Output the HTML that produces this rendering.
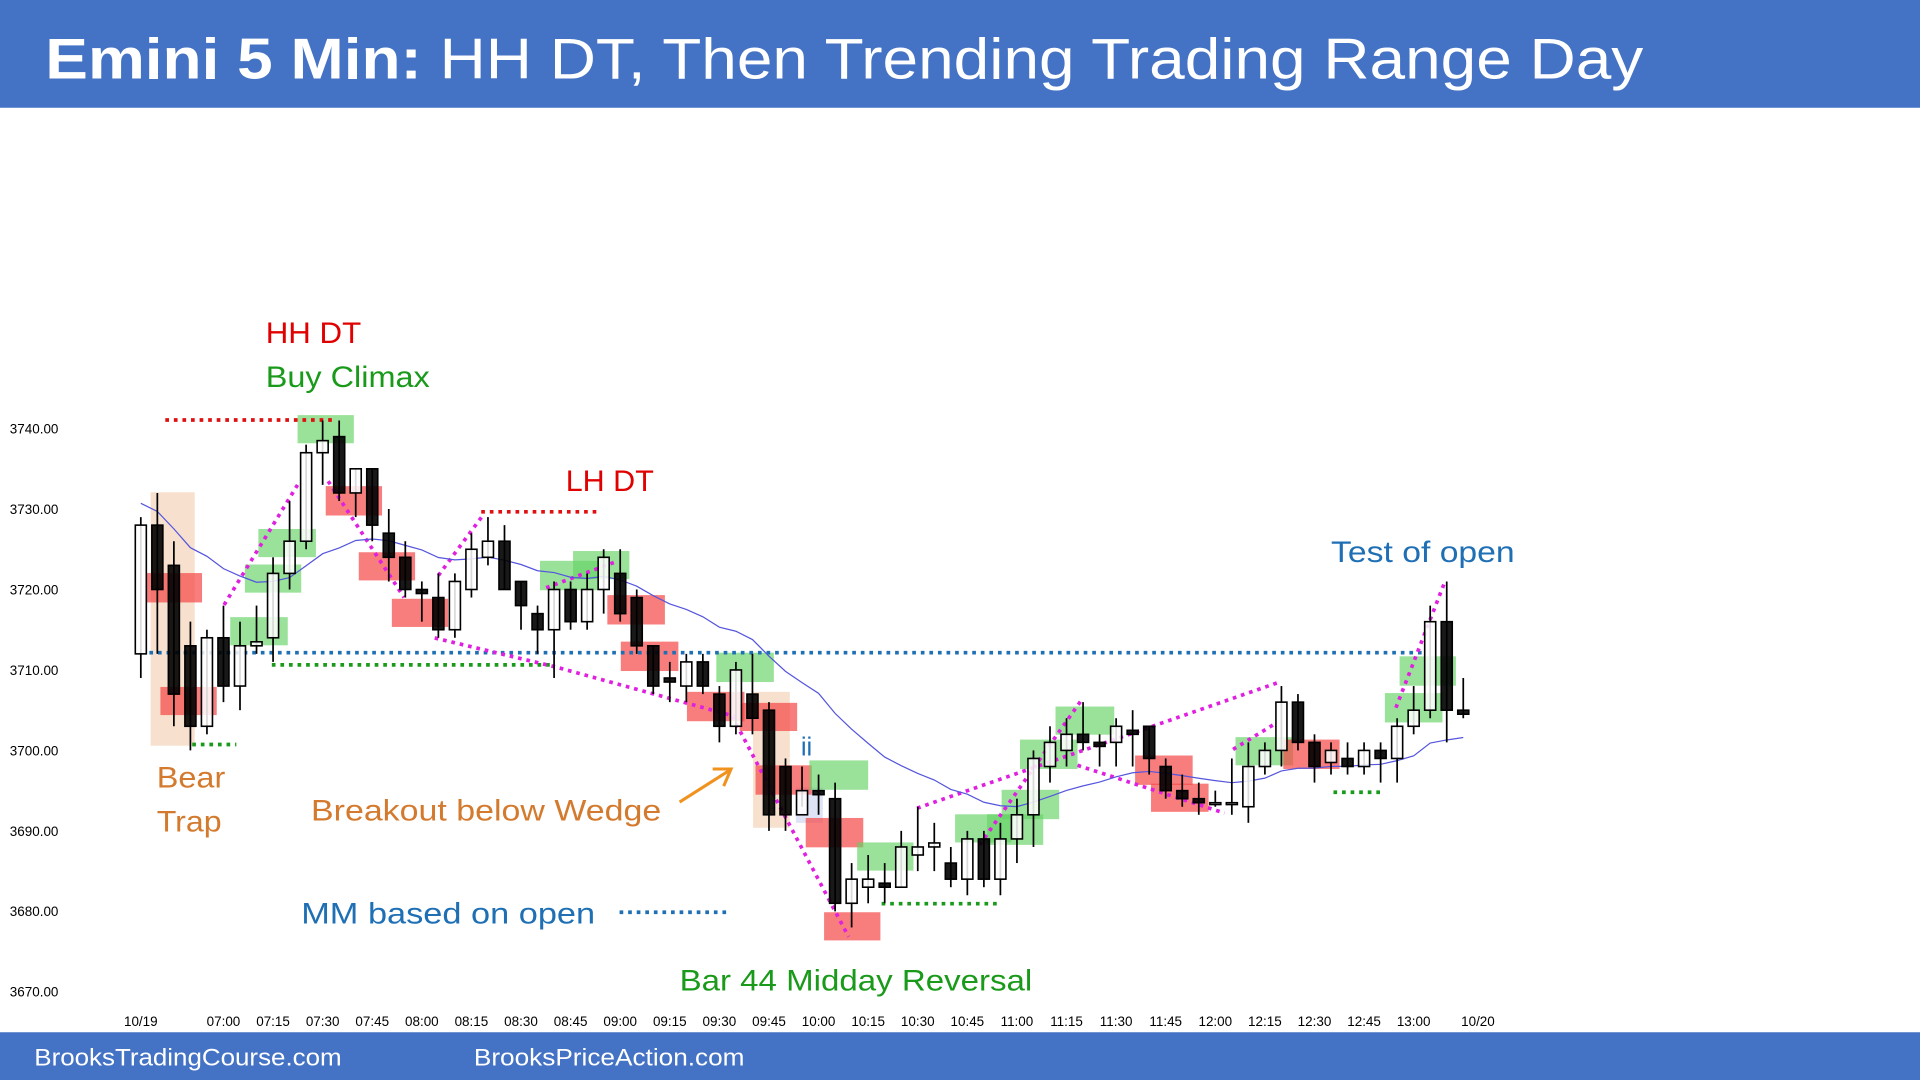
<!DOCTYPE html>
<html><head><meta charset="utf-8"><style>
html,body{margin:0;padding:0;background:#fff;overflow:hidden}
svg{display:block}
text{font-family:"Liberation Sans",sans-serif}
</style></head><body>
<svg id="chart" width="1920" height="1080" viewBox="0 0 1568 882" preserveAspectRatio="none" xmlns="http://www.w3.org/2000/svg">
<rect x="0" y="0" width="1568" height="88" fill="#4472C4"/>
<text x="37" y="64" font-size="47" fill="#fff" textLength="1305" lengthAdjust="spacingAndGlyphs"><tspan font-weight="bold">Emini 5 Min:</tspan> HH DT, Then Trending Trading Range Day</text>
<rect x="0" y="843" width="1568" height="39" fill="#4472C4"/>
<text x="28" y="870" font-size="20" fill="#fff" textLength="251" lengthAdjust="spacingAndGlyphs">BrooksTradingCourse.com</text>
<text x="387" y="870" font-size="20" fill="#fff" textLength="221" lengthAdjust="spacingAndGlyphs">BrooksPriceAction.com</text>
<g id="highlights"></g>
<g id="lines"></g>
<g id="axes"></g>
<polyline id="ma" fill="none" stroke="#5555dd" stroke-width="1"/>
<g id="candles"></g>
<g font-size="24">
<text x="217" y="280" fill="#e00000" textLength="78" lengthAdjust="spacingAndGlyphs">HH DT</text>
<text x="217" y="316" fill="#1a9a1a" textLength="134" lengthAdjust="spacingAndGlyphs">Buy Climax</text>
<text x="462" y="401" fill="#e00000" textLength="72" lengthAdjust="spacingAndGlyphs">LH DT</text>
<text x="128" y="643" fill="#d47a2e" textLength="56" lengthAdjust="spacingAndGlyphs">Bear</text>
<text x="128" y="679" fill="#d47a2e" textLength="53" lengthAdjust="spacingAndGlyphs">Trap</text>
<text x="254" y="670" fill="#d47a2e" textLength="286" lengthAdjust="spacingAndGlyphs">Breakout below Wedge</text>
<text x="654" y="617" fill="#1f6fb5" font-size="21">ii</text>
<text x="246" y="754" fill="#1f6fb5" textLength="240" lengthAdjust="spacingAndGlyphs">MM based on open</text>
<text x="555" y="809" fill="#1a9a1a" textLength="288" lengthAdjust="spacingAndGlyphs">Bar 44 Midday Reversal</text>
<text x="1087" y="459" fill="#1f6fb5" textLength="150" lengthAdjust="spacingAndGlyphs">Test of open</text>
<g stroke="#f0921e" stroke-width="2.5" fill="none">
<line x1="555" y1="655" x2="596" y2="629"/><polyline points="582,628 597,628 591,642"/></g>
</g>
</svg>
<script>
const opens  = [3712,3728,3723,3713,3703,3714,3708,3713,3714,3722,3726,3737,3739,3732,3735,3727,3724,3720,3719,3715,3720,3724,3726,3721,3717,3715,3720,3716,3720,3722,3719,3713,3709,3708,3711,3707,3703,3707,3705,3698,3692,3695,3694,3681,3683,3683.5,3683,3687,3688,3686,3684,3689,3684,3689,3692,3698,3700,3702,3701,3701,3702.5,3703,3698,3695,3694,3693.5,3693.5,3693,3698,3700,3706,3701,3698.5,3699,3698,3700,3699,3703,3705,3716,3705];
const highs  = [3729,3732,3726,3716,3715,3718,3716,3718,3724,3731,3738,3741,3741,3735,3735,3730,3726,3721,3722,3722,3727,3729,3728,3721,3718,3721,3721,3722,3725,3725,3720,3713,3711,3712,3712,3708,3711,3712,3706,3699,3698,3697,3696,3686,3687,3686,3690,3693,3691,3688,3690,3690,3691,3694,3700,3703,3704,3706,3702,3704,3705,3703,3699,3697,3696,3695,3699,3701,3701,3708,3707,3702,3701,3701,3701,3701,3704,3708,3718,3721,3709];
const lows   = [3709,3712,3703,3700,3702,3706,3705,3712,3711,3720,3725,3733,3731,3729,3726,3721,3719,3716,3714,3714,3719,3723,3720,3715,3712,3709,3715,3715,3717,3716,3712,3707,3706,3706,3707,3701,3702,3702,3690,3690,3693,3692,3680,3678,3681,3681,3683,3685,3685,3683,3682,3683,3682,3686,3688,3696,3698,3700,3698,3698,3698,3697,3694,3693,3692,3693,3692,3691,3697,3698,3700,3696,3697,3697,3697,3696,3696,3702,3704,3701,3704];
const closes = [3728,3720,3707,3703,3714,3708,3713,3713.5,3722,3726,3737,3738.5,3732,3735,3728,3724,3720,3719.5,3715,3721,3725,3726,3720,3718,3715,3720,3716,3720,3724,3717,3713,3708,3708.5,3711,3708,3703,3710,3704,3692,3692,3695,3694.5,3681,3684,3684,3683,3688,3688,3688.5,3684,3689,3684,3689,3692,3699,3701,3702,3701,3700.5,3703,3702,3699,3695,3694,3693.5,3693.5,3693.5,3698,3700,3706,3701,3698,3700,3698,3700,3699,3703,3705,3716,3705,3704.5];
const yTicks = [3740,3730,3720,3710,3700,3690,3680,3670];
const xLabels = ["10/19","07:00","07:15","07:30","07:45","08:00","08:15","08:30","08:45","09:00","09:15","09:30","09:45","10:00","10:15","10:30","10:45","11:00","11:15","11:30","11:45","12:00","12:15","12:30","12:45","13:00","10/20"];
const xLabelBars = [0,5,8,11,14,17,20,23,26,29,32,35,38,41,44,47,50,53,56,59,62,65,68,71,74,77,80];
const NS="http://www.w3.org/2000/svg";
function y(p){return 350+(3740-p)*6.571;}
function x(i){return 115+i*13.5;}
function mk(tag,attrs,parent){const e=document.createElementNS(NS,tag);for(const k in attrs)e.setAttribute(k,attrs[k]);parent.appendChild(e);return e;}
const axes=document.getElementById('axes');
yTicks.forEach(t=>{const e=mk('text',{x:8,y:y(t)+4,'font-size':11,fill:'#000'},axes);e.textContent=t.toFixed(2);

});
xLabels.forEach((l,k)=>{const xx=k===0?115:(k===xLabels.length-1?1207:x(xLabelBars[k]));const e=mk('text',{x:xx,y:838,'font-size':11,fill:'#000','text-anchor':'middle'},axes);e.textContent=l;

});
const hl=document.getElementById('highlights');
const G='rgba(100,210,100,0.65)',R='rgba(245,70,70,0.7)',T='rgba(240,200,165,0.55)';
[[123,402,36,207,T],[615,565,30,111,T],[650,643,22,29,'rgba(200,210,240,0.6)'],
[119,468,46,24,R],[131,561,46,23,R],[188,504,47,23,G],[200,461,46,23,G],[211,432,47,23,G],[243,339,46,23,G],
[266,397,46,24,R],[293,451,46,23,R],[320,489,46,23,R],[441,458,47,24,G],[468,450,46,23,G],
[496,486,47,24,R],[507,524,47,24,R],[561,565,47,24,R],[604,574,47,23,R],[585,533,47,24,G],
[617,625,46,24,R],[658,668,47,24,R],[673,745,46,23,R],[661,621,48,24,G],[700,688,46,23,G],[780,665,46,23,G],
[806,665,46,25,G],[818,645,47,24,G],[833,604,47,24,G],[862,577,48,23,G],[927,617,47,24,R],[940,640,47,23,R],
[1009,602,47,23,G],[1048,604,46,24,R],[1131,566,47,24,G],[1143,536,46,24,G]].forEach(r=>{
const e=mk('rect',{x:r[0],y:r[1],width:r[2],height:r[3],fill:r[4]},hl);

});
const ln=document.getElementById('lines');
function dl(pts,color,name){const e=mk('polyline',{points:pts,fill:'none',stroke:color,'stroke-width':3,'stroke-dasharray':'3,4'},ln);

}
dl('135,343 272,343','#e01010','hh-dt-line');
dl('393,418 487,418','#e01010','lh-dt-line');
dl('157,608 193,608','#1a9a1a','bear-trap-low-line');
dl('222,543 452,543','#1a9a1a','support-line');
dl('720,738 815,738','#1a9a1a','reversal-low-line');
dl('1089,647 1127,647','#1a9a1a','pullback-low-line');
dl('122,533 1162,533','#1f6fb5','open-line');
dl('506,745 593,745','#1f6fb5','mm-line');
dl('183,494 243,396','#e020e0','wedge-up-1');
dl('268,393 330,488','#e020e0','wedge-down-1');
dl('358,470 395,420','#e020e0','wedge-up-2');
dl('446,480 505,458','#e020e0','wedge-up-3');
dl('355,521 455,545 600,585','#e020e0','wedge-lower-line');
dl('598,585 693,765','#e020e0','wedge-break-line');
dl('749,660 1045,557','#e020e0','channel-upper-line');
dl('880,625 1000,664','#e020e0','channel-lower-line');
dl('800,690 883,572','#e020e0','rally-line');
dl('1007,612 1043,590','#e020e0','rally-line-2');
dl('1140,578 1180,475','#e020e0','test-open-line');
const ma=[];let v=3731;closes.forEach((c,i)=>{v=v+(c-v)*2/21;ma.push(v);});
document.getElementById('ma').setAttribute('points',ma.map((m,i)=>x(i)+','+y(m).toFixed(1)).join(' '));
const cg=document.getElementById('candles');
opens.forEach((o,i)=>{const c=closes[i],cx=x(i);const g=mk('g',{},cg);


mk('line',{x1:cx,x2:cx,y1:y(highs[i]),y2:y(lows[i]),stroke:'#000','stroke-width':1.4},g);
const top=y(Math.max(o,c)),bot=y(Math.min(o,c));
mk('rect',{x:cx-4.5,y:top,width:9,height:Math.max(bot-top,1.5),fill:c>=o?'#fff':'#000',stroke:'#000','stroke-width':1.3,'fill-opacity':c>=o?0.85:0.9},g);});
</script>
</body></html>
